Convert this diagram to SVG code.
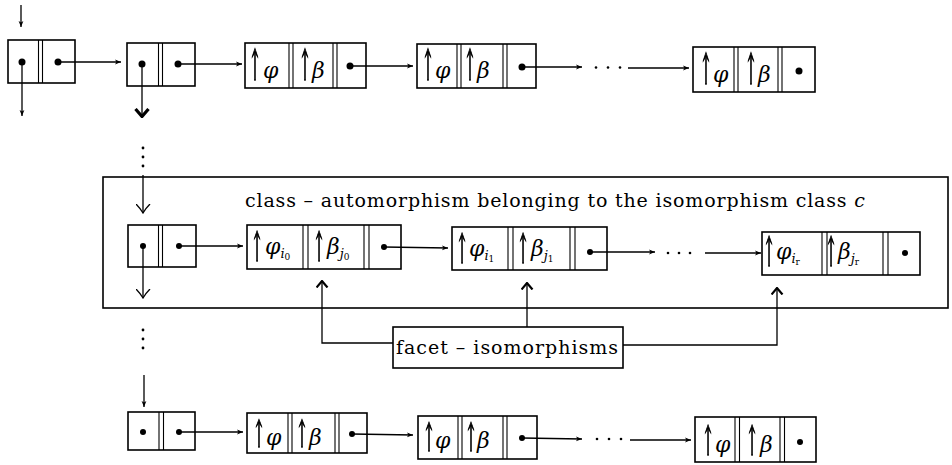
<svg xmlns="http://www.w3.org/2000/svg" width="952" height="465" viewBox="0 0 952 465">
<style>
.bx{fill:none;stroke:#000;stroke-width:1.6}
.dv{fill:none;stroke:#000;stroke-width:1.1}
.ln{fill:none;stroke:#000;stroke-width:1.3}
.dt{fill:#000}
.ar{font-family:"DejaVu Serif",serif;font-size:34px;text-anchor:middle;fill:#000;stroke:#000;stroke-width:1.3}
.g{font-family:"DejaVu Serif",serif;font-style:italic;font-size:22px;fill:#000}
.s{font-family:"DejaVu Serif",serif;font-style:italic;font-size:13px}
.ss{font-family:"DejaVu Serif",serif;font-size:9px}
.lbl{font-family:"DejaVu Serif",serif;font-size:19px;fill:#000}
.ups{opacity:0.99;filter:grayscale(1)}
</style>
<defs>
<marker id="h" viewBox="0 0 10 10" refX="10" refY="5" markerWidth="7" markerHeight="6" markerUnits="userSpaceOnUse" orient="auto"><path d="M0,1 L10,5 L0,9 L2.5,5 Z" fill="#000"/></marker>
<marker id="v" viewBox="0 0 10 15" refX="9.5" refY="7.5" markerWidth="10" markerHeight="15" markerUnits="userSpaceOnUse" orient="auto"><path d="M0.5,0.5 Q5,5 9.5,7.5 Q5,10 0.5,14.5" fill="none" stroke="#000" stroke-width="1.3"/></marker>
<marker id="b" viewBox="0 0 10 16" refX="9" refY="8" markerWidth="10" markerHeight="16" markerUnits="userSpaceOnUse" orient="auto"><path d="M1,1.5 L8.5,8 L1,14.5" fill="none" stroke="#000" stroke-width="3.2"/></marker>
<marker id="u" viewBox="0 0 8 13" refX="7" refY="6.5" markerWidth="8" markerHeight="13" markerUnits="userSpaceOnUse" orient="auto"><path d="M0.5,1 L7,6.5 L0.5,12" fill="none" stroke="#000" stroke-width="2.2"/></marker>
</defs>

<!-- enclosing class box -->
<g id="classbox">
<rect class="bx" x="103" y="177" width="845" height="131"/>
<text class="lbl" x="245" y="207" textLength="620">class – automorphism belonging to the isomorphism class <tspan font-style="italic">c</tspan></text>
</g>

<!-- top row -->
<g id="t1">
<rect class="bx" x="8" y="40" width="67" height="43"/>
<line class="dv" x1="38.5" y1="40" x2="38.5" y2="83"/><line class="dv" x1="42.5" y1="40" x2="42.5" y2="83"/>
<circle class="dt" cx="22" cy="62" r="3.5"/><circle class="dt" cx="58" cy="62" r="3.5"/>
</g>
<g id="t2">
<rect class="bx" x="127" y="43" width="68" height="43"/>
<line class="dv" x1="158.5" y1="43" x2="158.5" y2="86"/><line class="dv" x1="162.5" y1="43" x2="162.5" y2="86"/>
<circle class="dt" cx="142" cy="64" r="3.5"/><circle class="dt" cx="178" cy="64" r="3.5"/>
</g>
<g id="t3">
<rect class="bx" x="245" y="43" width="121" height="45"/>
<line class="dv" x1="289" y1="43" x2="289" y2="88"/><line class="dv" x1="293" y1="43" x2="293" y2="88"/>
<line class="dv" x1="333" y1="43" x2="333" y2="88"/><line class="dv" x1="337" y1="43" x2="337" y2="88"/>
<g class="ups"><text class="ar" transform="translate(255,80) scale(0.42,1.25)">↑</text><text class="ar" transform="translate(305,80) scale(0.42,1.25)">↑</text></g>
<text class="g" x="263" y="78">φ</text><text class="g" x="312" y="78">β</text>
<circle class="dt" cx="350" cy="66" r="3.5"/>
</g>
<g id="t4">
<rect class="bx" x="417" y="44" width="119" height="44"/>
<line class="dv" x1="457" y1="44" x2="457" y2="88"/><line class="dv" x1="461" y1="44" x2="461" y2="88"/>
<line class="dv" x1="503" y1="44" x2="503" y2="88"/><line class="dv" x1="507" y1="44" x2="507" y2="88"/>
<g class="ups"><text class="ar" transform="translate(428,80) scale(0.42,1.25)">↑</text><text class="ar" transform="translate(470,80) scale(0.42,1.25)">↑</text></g>
<text class="g" x="435" y="78">φ</text><text class="g" x="477" y="78">β</text>
<circle class="dt" cx="522" cy="67" r="3.5"/>
</g>
<g id="t5">
<rect class="bx" x="693" y="47" width="122" height="45"/>
<line class="dv" x1="734" y1="47" x2="734" y2="92"/><line class="dv" x1="738" y1="47" x2="738" y2="92"/>
<line class="dv" x1="778" y1="47" x2="778" y2="92"/><line class="dv" x1="782" y1="47" x2="782" y2="92"/>
<g class="ups"><text class="ar" transform="translate(706,84) scale(0.42,1.25)">↑</text><text class="ar" transform="translate(751,84) scale(0.42,1.25)">↑</text></g>
<text class="g" x="713" y="82">φ</text><text class="g" x="758" y="82">β</text>
<circle class="dt" cx="799" cy="71" r="3.5"/>
</g>

<!-- middle row -->
<g id="m1">
<rect class="bx" x="128" y="225" width="68" height="42"/>
<line class="dv" x1="158.5" y1="225" x2="158.5" y2="267"/><line class="dv" x1="162.5" y1="225" x2="162.5" y2="267"/>
<circle class="dt" cx="143" cy="246" r="3"/><circle class="dt" cx="179" cy="246" r="3"/>
</g>
<g id="m2">
<rect class="bx" x="247" y="225" width="154" height="44"/>
<line class="dv" x1="303" y1="225" x2="303" y2="269"/><line class="dv" x1="308" y1="225" x2="308" y2="269"/>
<line class="dv" x1="364" y1="225" x2="364" y2="269"/><line class="dv" x1="369" y1="225" x2="369" y2="269"/>
<g class="ups"><text class="ar" transform="translate(257,261) scale(0.42,1.2)">↑</text><text class="ar" transform="translate(319,261) scale(0.42,1.2)">↑</text></g>
<text y="254"><tspan class="g" x="265">φ</tspan><tspan class="s" dy="4">i</tspan><tspan class="ss" dy="2">0</tspan></text>
<text y="254"><tspan class="g" x="327">β</tspan><tspan class="s" dy="4">j</tspan><tspan class="ss" dy="2">0</tspan></text>
<circle class="dt" cx="384" cy="247" r="3"/>
</g>
<g id="m3">
<rect class="bx" x="452" y="227" width="155" height="43"/>
<line class="dv" x1="508" y1="227" x2="508" y2="270"/><line class="dv" x1="513" y1="227" x2="513" y2="270"/>
<line class="dv" x1="570" y1="227" x2="570" y2="270"/><line class="dv" x1="575" y1="227" x2="575" y2="270"/>
<g class="ups"><text class="ar" transform="translate(462,263) scale(0.42,1.2)">↑</text><text class="ar" transform="translate(523,263) scale(0.42,1.2)">↑</text></g>
<text y="256"><tspan class="g" x="469">φ</tspan><tspan class="s" dy="4">i</tspan><tspan class="ss" dy="2">1</tspan></text>
<text y="256"><tspan class="g" x="531">β</tspan><tspan class="s" dy="4">j</tspan><tspan class="ss" dy="2">1</tspan></text>
<circle class="dt" cx="590" cy="252" r="3"/>
</g>
<g id="m4">
<rect class="bx" x="762" y="232" width="158" height="43"/>
<line class="dv" x1="822" y1="232" x2="822" y2="275"/><line class="dv" x1="827" y1="232" x2="827" y2="275"/>
<line class="dv" x1="883" y1="232" x2="883" y2="275"/><line class="dv" x1="888" y1="232" x2="888" y2="275"/>
<g class="ups"><text class="ar" transform="translate(769,266) scale(0.42,1.2)">↑</text><text class="ar" transform="translate(831,266) scale(0.42,1.2)">↑</text></g>
<text y="259"><tspan class="g" x="776">φ</tspan><tspan class="s" dy="4">i</tspan><tspan class="ss" dy="2">r</tspan></text>
<text y="259"><tspan class="g" x="838">β</tspan><tspan class="s" dy="4">j</tspan><tspan class="ss" dy="2">r</tspan></text>
<circle class="dt" cx="905" cy="253" r="3"/>
</g>

<!-- facet box -->
<g id="facet">
<rect class="bx" x="393" y="327" width="230" height="41"/>
<text class="lbl" x="396" y="354" font-size="21" textLength="222">facet – isomorphisms</text>
</g>

<!-- bottom row -->
<g id="b1">
<rect class="bx" x="128" y="412" width="67" height="38"/>
<line class="dv" x1="159" y1="412" x2="159" y2="450"/><line class="dv" x1="163.5" y1="412" x2="163.5" y2="450"/>
<circle class="dt" cx="143" cy="432" r="3"/><circle class="dt" cx="179" cy="432" r="3"/>
</g>
<g id="b2">
<rect class="bx" x="247" y="413" width="120" height="40"/>
<line class="dv" x1="288" y1="413" x2="288" y2="453"/><line class="dv" x1="292" y1="413" x2="292" y2="453"/>
<line class="dv" x1="335" y1="413" x2="335" y2="453"/><line class="dv" x1="339" y1="413" x2="339" y2="453"/>
<g class="ups"><text class="ar" transform="translate(259,447) scale(0.42,1.1)">↑</text><text class="ar" transform="translate(302,447) scale(0.42,1.1)">↑</text></g>
<text class="g" x="266" y="445">φ</text><text class="g" x="309" y="445">β</text>
<circle class="dt" cx="352" cy="434" r="3"/>
</g>
<g id="b3">
<rect class="bx" x="418" y="416" width="119" height="43"/>
<line class="dv" x1="458" y1="416" x2="458" y2="459"/><line class="dv" x1="462" y1="416" x2="462" y2="459"/>
<line class="dv" x1="503" y1="416" x2="503" y2="459"/><line class="dv" x1="507" y1="416" x2="507" y2="459"/>
<g class="ups"><text class="ar" transform="translate(429,451) scale(0.42,1.15)">↑</text><text class="ar" transform="translate(471,451) scale(0.42,1.15)">↑</text></g>
<text class="g" x="435" y="448">φ</text><text class="g" x="477" y="448">β</text>
<circle class="dt" cx="522" cy="438" r="3"/>
</g>
<g id="b4">
<rect class="bx" x="695" y="417" width="121" height="45"/>
<line class="dv" x1="735" y1="417" x2="735" y2="462"/><line class="dv" x1="739.5" y1="417" x2="739.5" y2="462"/>
<line class="dv" x1="780" y1="417" x2="780" y2="462"/><line class="dv" x1="784.5" y1="417" x2="784.5" y2="462"/>
<g class="ups"><text class="ar" transform="translate(708,455) scale(0.42,1.2)">↑</text><text class="ar" transform="translate(752,455) scale(0.42,1.2)">↑</text></g>
<text class="g" x="715" y="452">φ</text><text class="g" x="760" y="452">β</text>
<circle class="dt" cx="800" cy="442" r="3"/>
</g>

<!-- connectors -->
<g id="connectors">
<line class="ln" x1="21" y1="5" x2="21" y2="27" marker-end="url(#h)"/>
<line class="ln" x1="22" y1="62" x2="22" y2="116" marker-end="url(#h)"/>
<line class="ln" x1="58" y1="62" x2="121" y2="62" marker-end="url(#h)"/>
<line class="ln" x1="142" y1="64" x2="142" y2="117" marker-end="url(#b)"/>
<line class="ln" x1="178" y1="64" x2="242" y2="64" marker-end="url(#h)"/>
<line class="ln" x1="350" y1="66" x2="413" y2="66" marker-end="url(#h)"/>
<line class="ln" x1="522" y1="67" x2="582" y2="67" marker-end="url(#h)"/>
<g class="dt"><circle cx="596" cy="67.5" r="1.3"/><circle cx="608" cy="67.5" r="1.3"/><circle cx="620" cy="67.5" r="1.3"/></g>
<line class="ln" x1="628" y1="68" x2="689" y2="68" marker-end="url(#h)"/>

<g class="dt"><circle cx="143" cy="148" r="1.4"/><circle cx="143" cy="157" r="1.4"/><circle cx="143" cy="166" r="1.4"/></g>
<line class="ln" x1="143" y1="175" x2="143" y2="213" marker-end="url(#v)"/>
<line class="ln" x1="143" y1="246" x2="143" y2="298" marker-end="url(#v)"/>
<line class="ln" x1="179" y1="246" x2="243" y2="246" marker-end="url(#h)"/>
<line class="ln" x1="384" y1="247" x2="448" y2="248" marker-end="url(#h)"/>
<line class="ln" x1="590" y1="252" x2="655" y2="252" marker-end="url(#h)"/>
<g class="dt"><circle cx="668" cy="253" r="1.3"/><circle cx="679" cy="253" r="1.3"/><circle cx="690" cy="253" r="1.3"/></g>
<line class="ln" x1="705" y1="253" x2="761" y2="253" marker-end="url(#h)"/>

<path class="ln" d="M393,343 H322 V281" marker-end="url(#u)"/>
<line class="ln" x1="527" y1="327" x2="527" y2="283" marker-end="url(#u)"/>
<path class="ln" d="M623,345 H777 V288" marker-end="url(#u)"/>

<g class="dt"><circle cx="143" cy="330" r="1.4"/><circle cx="143" cy="339" r="1.4"/><circle cx="143" cy="348" r="1.4"/></g>
<line class="ln" x1="144" y1="375" x2="144" y2="407" marker-end="url(#h)"/>
<line class="ln" x1="179" y1="432" x2="243" y2="432" marker-end="url(#h)"/>
<line class="ln" x1="352" y1="434" x2="413" y2="435" marker-end="url(#h)"/>
<line class="ln" x1="522" y1="438" x2="582" y2="439" marker-end="url(#h)"/>
<g class="dt"><circle cx="597" cy="439" r="1.3"/><circle cx="609" cy="439" r="1.3"/><circle cx="621" cy="439" r="1.3"/></g>
<line class="ln" x1="630" y1="440" x2="691" y2="440" marker-end="url(#h)"/>
</g>
</svg>
